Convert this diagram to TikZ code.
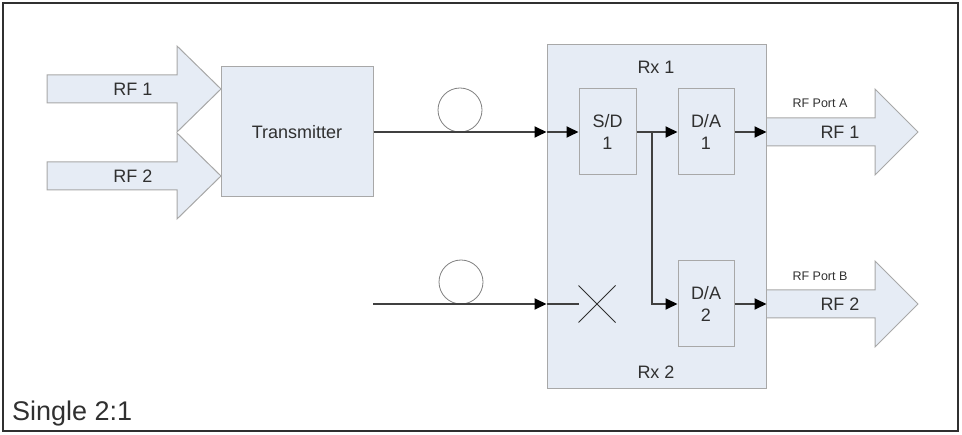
\documentclass[tikz,border=0pt]{standalone}
\usepackage{fontspec}
\setmainfont{Liberation Sans}
\usetikzlibrary{arrows.meta}
\usetikzlibrary{shapes.misc}
\usetikzlibrary{calc}

\definecolor{boxfill}{HTML}{E6ECF5}
\definecolor{boxline}{HTML}{A8A8A8}
\definecolor{wire}{HTML}{404040}
\definecolor{ink}{HTML}{303030}

\tikzset{
  unit/.style={draw=boxline, fill=boxfill, line width=1pt, text=ink,
    font=\fontsize{18}{22}\selectfont, align=center, inner sep=0pt},
  fat/.style={draw=boxline, fill=boxfill, line width=1pt},
  wire/.style={draw=wire, line width=1.8pt},
  feed/.style={wire, -{Triangle[length=12pt,width=11pt,color=black]}},
  coil/.style={circle, draw=gray, line width=0.8pt, minimum size=44pt, inner sep=0pt},
  lbl/.style={text=ink, font=\fontsize{18}{22}\selectfont, inner sep=0pt},
  port/.style={text=ink, font=\fontsize{12.5}{14}\selectfont, inner sep=0pt}
}

\begin{document}
\begin{tikzpicture}[x=1pt,y=-1pt]
    \useasboundingbox (0,0) rectangle (962,435);
    \draw[draw=ink, line width=2pt] (3,3) rectangle (958,431);

    % fat RF arrows in and out
    \foreach \yc in {89,176}
        \draw[fat] (47,\yc-14) -- (177,\yc-14) -- (177,\yc-43) -- (221,\yc)
            -- (177,\yc+43) -- (177,\yc+14) -- (47,\yc+14) -- cycle;
    \foreach \yc in {132,304}
        \draw[fat] (766,\yc-14) -- (875,\yc-14) -- (875,\yc-43) -- (918,\yc)
            -- (875,\yc+43) -- (875,\yc+14) -- (766,\yc+14) -- cycle;

    \node[unit, minimum width=152pt, minimum height=130pt] (tx) at (297,132) {Transmitter};
    \node[unit, minimum width=219pt, minimum height=344pt] (rx) at (656.5,217) {};
    \node[lbl] (rxa) at (656,67) {Rx 1};
    \node[lbl] (rxb) at (656,372) {Rx 2};
    \node[unit, minimum width=57pt, minimum height=86pt] (sd) at (607.5,132) {S/D\\1};
    \node[unit, minimum width=56pt, minimum height=86pt] (daa) at (706,132) {D/A\\1};
    \node[unit, minimum width=56pt, minimum height=86pt] (dab) at (706,304) {D/A\\2};

    % fibre loops and the cut input
    \node[coil] (loopa) at (460,110) {};
    \node[coil] (loopb) at (461,282) {};
    \node[cross out, draw=ink, line width=1pt, minimum size=36pt, inner sep=0pt] (cut) at (597,304) {};
    \coordinate (fibin) at (373,304);
    \coordinate (split) at (652,132);

    \draw[feed] (tx.east) -- (rx.west |- tx.east);
    \draw[feed] (rx.west |- tx.east) -- (sd.west);
    \draw[feed] (fibin) -- (rx.west |- fibin);
    \draw[wire] (rx.west |- fibin) -- (cut.west);
    \draw[feed] (sd.east) -- (daa.west);
    \draw[feed] (split) |- (dab.west);
    \draw[feed] (daa.east) -- (rx.east |- daa.east);
    \draw[feed] (dab.east) -- (rx.east |- dab.east);

    \node[lbl] (rfina) at (133,89) {RF 1};
    \node[lbl] (rfinb) at (133,176) {RF 2};
    \node[lbl] (rfouta) at (840,132) {RF 1};
    \node[lbl] (rfoutb) at (840,304) {RF 2};
    \node[port] (porta) at (820,103) {RF Port A};
    \node[port] (portb) at (820,276) {RF Port B};
    \node[anchor=base west, text=ink, inner sep=0pt,
        font=\fontsize{27}{30}\selectfont] (mode) at (12,421) {Single 2:1};
\end{tikzpicture}
\end{document}
